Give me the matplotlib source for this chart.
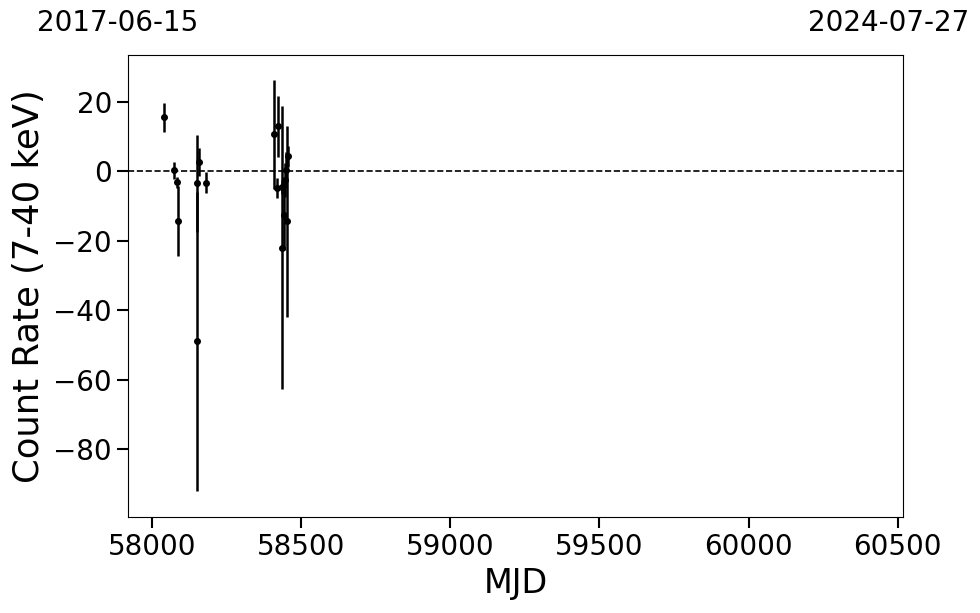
import numpy as np
import matplotlib
matplotlib.use('Agg')
import matplotlib.pyplot as plt

# light curve points (MJD, count rate 7-40 keV, 1-sigma error)
mjd = [58040, 58073, 58083, 58088, 58149, 58152, 58158, 58179,
       58409, 58420, 58423, 58434, 58437, 58443, 58445, 58448, 58452, 58454]
rate = [15.5, 0.3, -3.2, -14.3, -49.0, -3.5, 2.7, -3.3,
        10.6, -4.8, 12.9, -22.0, -4.5, -12.7, -2.5, 0.5, -14.4, 4.3]
err = [4.3, 2.5, 1.5, 10.0, 43.0, 14.0, 4.0, 3.0,
       15.8, 3.0, 8.7, 40.7, 2.0, 10.0, 5.0, 5.0, 27.5, 3.0]

mjd_start = 57919   # 2017-06-15
mjd_end = 60518     # 2024-07-27
date_start = '2017-06-15'
date_end = '2024-07-27'

fig = plt.figure(figsize=(9.8, 6.13), dpi=100)
ax = fig.add_axes([0.1306, 0.1566, 0.7908, 0.7537])

ax.errorbar(mjd, rate, yerr=err, fmt='o', color='k', ms=4, elinewidth=1.8, capsize=0)
ax.axhline(0, color='k', ls='--', lw=1.2)

ax.set_xlim(mjd_start, mjd_end)
ax.set_ylim(-99.6, 33.5)
ax.set_xticks([58000, 58500, 59000, 59500, 60000, 60500])
ax.set_yticks([-80, -60, -40, -20, 0, 20])
ax.tick_params(labelsize=20, length=8, width=1.5)
ax.set_xlabel('MJD', fontsize=24)
ax.set_ylabel('Count Rate (7-40 keV)', fontsize=25.5, labelpad=5)

fig.text(118 / 980, 1 - 23 / 613, date_start, fontsize=20, ha='center', va='center')
fig.text(889 / 980, 1 - 23 / 613, date_end, fontsize=20, ha='center', va='center')

fig.savefig('out.png', dpi=100)
